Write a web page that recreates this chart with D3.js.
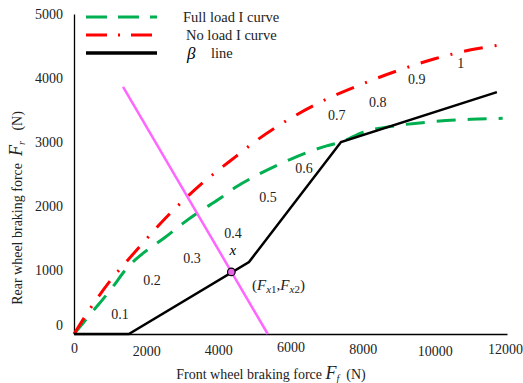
<!DOCTYPE html>
<html>
<head>
<meta charset="utf-8">
<script src="https://cdn.jsdelivr.net/npm/d3@7"></script>
<style>
  body { margin: 0; background: #fff; }
</style>
</head>
<body>
<svg id="chart" width="523" height="383"></svg>
<script>
// front braking force Ff (N) and rear braking force Fr (N)
var fullFf = [0, 500, 1000, 1500, 2000, 2500, 3000, 3500, 4000, 4500, 5000, 6000, 7000, 7400, 8000, 9000, 10000, 11000, 11880];
var fullFr = [0, 340, 680, 1050, 1300, 1500, 1720, 1920, 2100, 2300, 2460, 2730, 2940, 3000, 3150, 3260, 3320, 3355, 3370];

var noFf = [0, 500, 1000, 1500, 2000, 2500, 3000, 3500, 4000, 4500, 5000, 6000, 7000, 8000, 9000, 10000, 11000, 11850];
var noFr = [0, 440, 830, 1160, 1480, 1790, 2070, 2330, 2560, 2780, 3000, 3370, 3670, 3910, 4120, 4300, 4440, 4520];

var betaFf = [0, 1520, 4850, 7400, 11720];
var betaFr = [0, 0, 1125, 3000, 3780];

var lineFf = [1360, 5370];
var lineFr = [3860, 0];

var crossPt = [4360, 970];

var xTicks = [0, 2000, 4000, 6000, 8000, 10000, 12000];
var yTicks = [0, 1000, 2000, 3000, 4000, 5000];

// phi labels along the curves
var phiText = ["0.1", "0.2", "0.3", "0.4", "0.5", "0.6", "0.7", "0.8", "0.9", "1"];
var phiFf = [1274, 2161, 3269, 4404, 5374, 6371, 7285, 8421, 9501, 10720];
var phiFr = [312, 844, 1188, 1578, 2141, 2594, 3422, 3625, 3984, 4234];

var FONT = '"Liberation Serif", Tinos, "Times New Roman", "DejaVu Serif", serif';

var svg = d3.select('#chart')
  .attr('font-family', FONT);

var x = d3.scaleLinear().domain([0, 12000]).range([74, 507]);
var y = d3.scaleLinear().domain([0, 5000]).range([334, 14]);

function zip(a, b) { return a.map(function(d, i){ return [d, b[i]]; }); }

var line = d3.line()
  .x(function(d){ return x(d[0]); })
  .y(function(d){ return y(d[1]); });
var smooth = d3.line()
  .x(function(d){ return x(d[0]); })
  .y(function(d){ return y(d[1]); })
  .curve(d3.curveMonotoneX);

// axes, drawn without tick marks
var xAxis = svg.append('g')
  .attr('transform', 'translate(0,' + y(0) + ')')
  .call(d3.axisBottom(x).tickValues(xTicks).tickSize(0).tickPadding(0).tickFormat(d3.format('d')))
  .attr('font-family', FONT);
xAxis.select('.domain').attr('stroke', '#000').attr('stroke-width', 1.3);
var xJitter = [9, 12, 11, 8, 10, 12, 10];
xAxis.selectAll('text')
  .attr('font-size', 14)
  .attr('y', function(d, i){ return xJitter[i]; })
  .attr('x', function(d){ return d === 12000 ? -2 : 0; })
  .attr('dy', '0.71em')
  .attr('fill', '#222');

var yAxis = svg.append('g')
  .attr('transform', 'translate(' + x(0) + ',0)')
  .call(d3.axisLeft(y).tickValues(yTicks).tickSize(0).tickPadding(11).tickFormat(d3.format('d')))
  .attr('font-family', FONT);
yAxis.select('.domain').attr('stroke', '#000').attr('stroke-width', 1.3);
yAxis.selectAll('text')
  .attr('font-size', 14)
  .attr('dy', function(d){ return d === 0 ? '-0.3em' : '0.32em'; })
  .attr('fill', '#222');

// curves
svg.append('path')
  .attr('d', smooth(zip(fullFf, fullFr)))
  .attr('fill', 'none').attr('stroke', '#00b050').attr('stroke-width', 3)
  .attr('stroke-dasharray', '19,12');

svg.append('path')
  .attr('d', smooth(zip(noFf, noFr)))
  .attr('fill', 'none').attr('stroke', '#ff0000').attr('stroke-width', 3)
  .attr('stroke-dasharray', '19,12,2,12');

svg.append('path')
  .attr('d', line(zip(lineFf, lineFr)))
  .attr('fill', 'none').attr('stroke', '#ff66ff').attr('stroke-width', 2.5);

svg.append('path')
  .attr('d', line(zip(betaFf, betaFr)))
  .attr('fill', 'none').attr('stroke', '#000').attr('stroke-width', 2.5)
  .attr('stroke-linejoin', 'miter');

svg.append('circle')
  .attr('cx', x(crossPt[0])).attr('cy', y(crossPt[1])).attr('r', 3.8)
  .attr('fill', '#e664e6').attr('stroke', '#000').attr('stroke-width', 1.2);

// phi labels
svg.selectAll('text.phi')
  .data(phiText)
  .enter().append('text')
  .attr('class', 'phi')
  .attr('x', function(d, i){ return x(phiFf[i]); })
  .attr('y', function(d, i){ return y(phiFr[i]); })
  .attr('dy', '0.35em')
  .attr('text-anchor', 'middle')
  .attr('font-size', 14)
  .attr('fill', '#222')
  .text(function(d){ return d; });

svg.append('text')
  .attr('x', x(4404)).attr('y', y(1297)).attr('dy', '0.3em')
  .attr('text-anchor', 'middle').attr('font-size', 15).attr('font-style', 'italic')
  .text('x');

var pt = svg.append('text')
  .attr('x', 252).attr('y', 290).attr('font-size', 15).attr('fill', '#222');
pt.append('tspan').text('(');
pt.append('tspan').attr('font-style', 'italic').text('F');
pt.append('tspan').attr('font-style', 'italic').attr('font-size', 11).attr('dy', 3).text('x');
pt.append('tspan').attr('font-size', 11).text('1');
pt.append('tspan').attr('dy', -3).text(',');
pt.append('tspan').attr('font-style', 'italic').text('F');
pt.append('tspan').attr('font-style', 'italic').attr('font-size', 11).attr('dy', 3).text('x');
pt.append('tspan').attr('font-size', 11).text('2');
pt.append('tspan').attr('dy', -3).text(')');

// legend
var legend = [
  {label: 'Full load I curve', color: '#00b050', dash: '21,11', tx: 183},
  {label: 'No load I curve', color: '#ff0000', dash: '21,11,2,11', tx: 186},
  {label: 'line', color: '#000', dash: null, tx: 211}
];
legend.forEach(function(d, i){
  var ly = 17 + i * 18;
  svg.append('line')
    .attr('x1', 86).attr('x2', 157).attr('y1', ly).attr('y2', ly)
    .attr('stroke', d.color).attr('stroke-width', i === 2 ? 3.5 : 3)
    .attr('stroke-dasharray', d.dash);
  svg.append('text')
    .attr('x', d.tx).attr('y', ly).attr('dy', '0.35em')
    .attr('font-size', 14.5).attr('fill', '#222').text(d.label);
});
svg.append('text')
  .attr('x', 187).attr('y', 53).attr('dy', '0.35em')
  .attr('font-size', 17).attr('font-style', 'italic').text('\u03b2');

// axis titles
var xt = svg.append('text')
  .attr('x', 271).attr('y', 379).attr('text-anchor', 'middle').attr('font-size', 14).attr('fill', '#222');
xt.append('tspan').text('Front wheel braking force ');
xt.append('tspan').attr('font-style', 'italic').attr('font-size', 18).text('F');
xt.append('tspan').attr('font-style', 'italic').attr('font-size', 10).attr('dy', 3).text('f');
xt.append('tspan').attr('dy', -3).text('\u00a0\u00a0(N)');

var yt = svg.append('text')
  .attr('transform', 'translate(22,208) rotate(-90)')
  .attr('text-anchor', 'middle').attr('font-size', 14).attr('fill', '#222');
yt.append('tspan').text('Rear wheel braking force\u00a0\u00a0');
yt.append('tspan').attr('font-style', 'italic').attr('font-size', 18).text('F');
yt.append('tspan').attr('font-style', 'italic').attr('font-size', 10).attr('dy', 3).text('r');
yt.append('tspan').attr('dy', -3).text('\u00a0\u00a0\u00a0(N)');
</script>
</body>
</html>
